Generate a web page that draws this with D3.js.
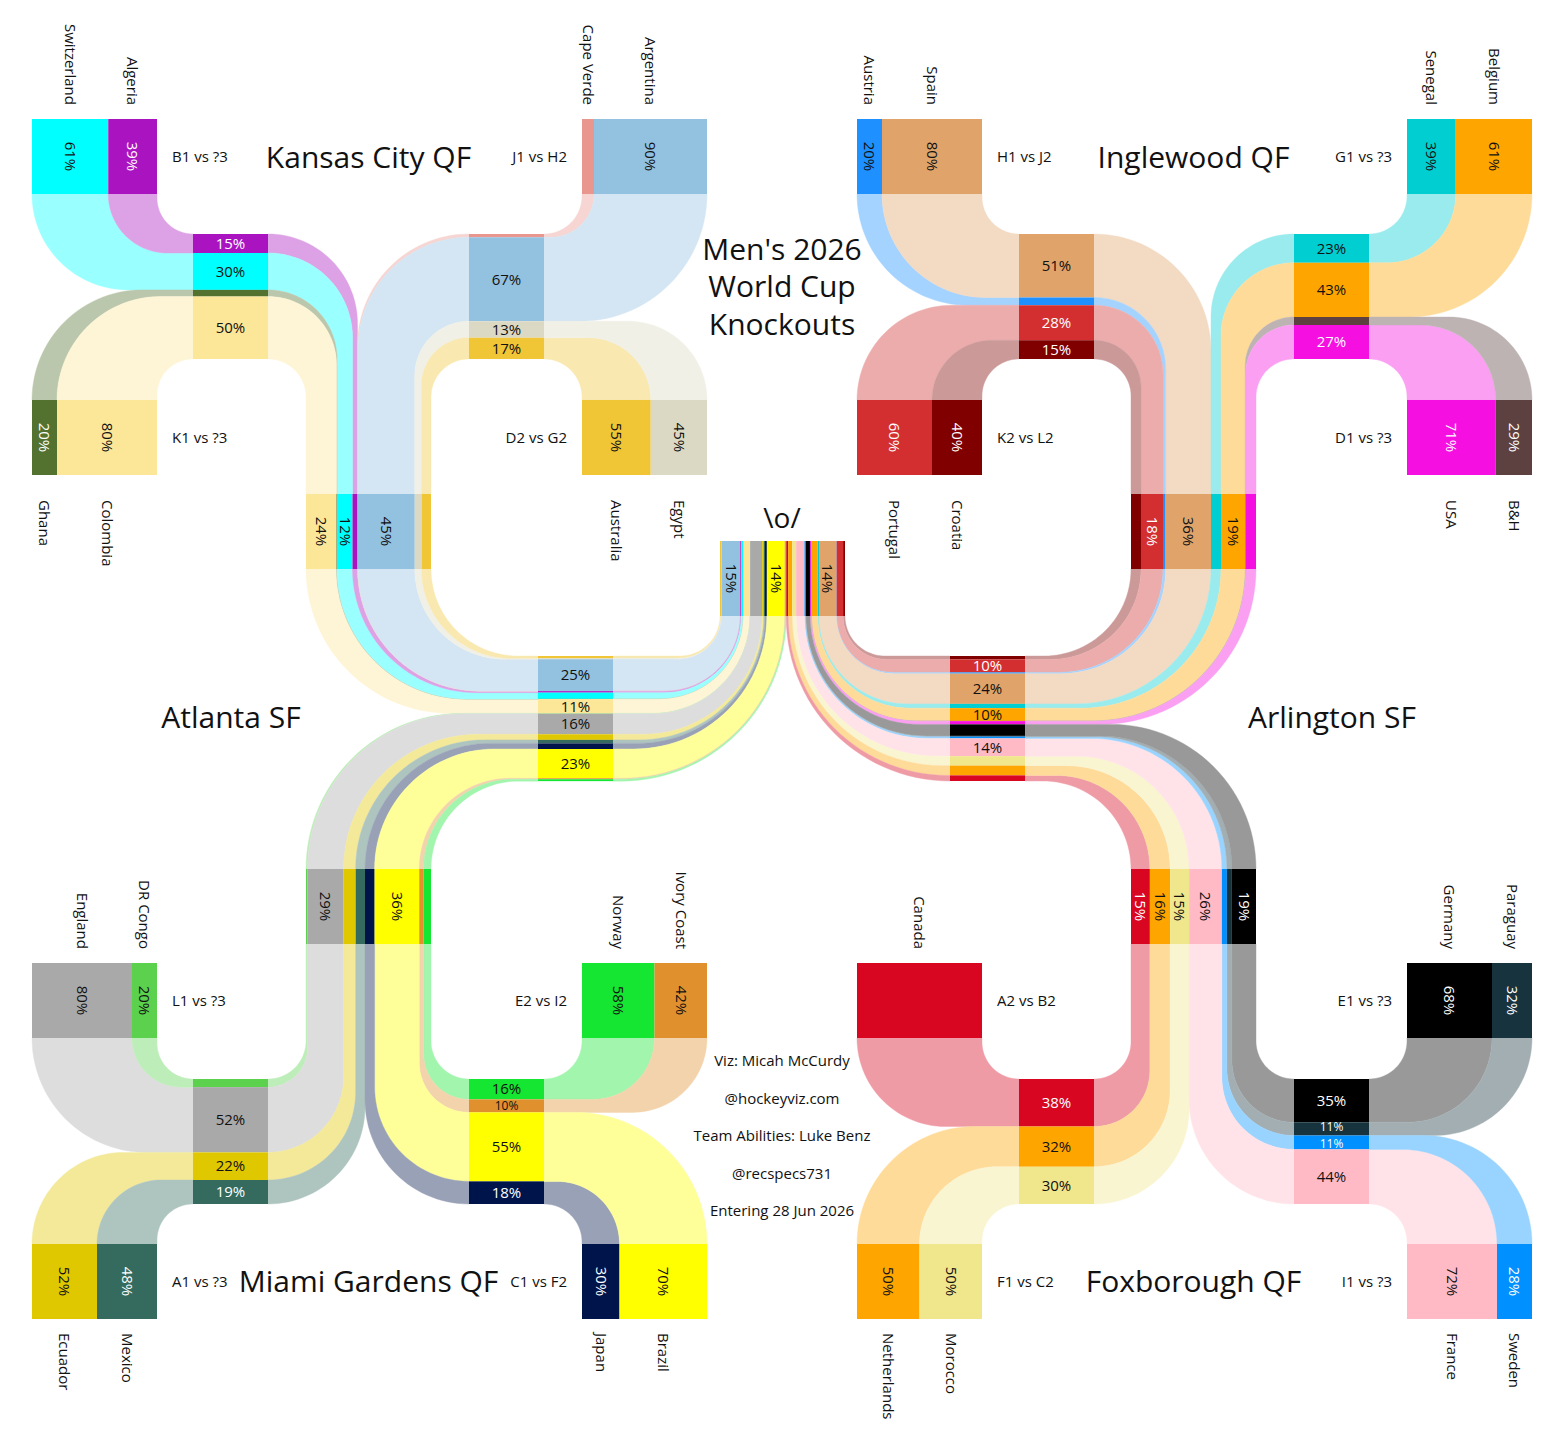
<!DOCTYPE html>
<html>
<head>
<meta charset="utf-8">
<script src="https://cdn.jsdelivr.net/npm/d3@7"></script>
<style>
  body { margin: 0; background: #fff; }
  text { font-family: "Open Sans", sans-serif; }
</style>
</head>
<body>
<div id="chart"></div>
<script>
(function() {
  var width = 1563,
      height = 1438;

  // Round of 32 matches, in bracket order.
  var matchLabels = ["B1 vs ?3", "K1 vs ?3", "J1 vs H2", "D2 vs G2",
                     "H1 vs J2", "K2 vs L2", "G1 vs ?3", "D1 vs ?3",
                     "L1 vs ?3", "A1 vs ?3", "E2 vs I2", "C1 vs F2",
                     "A2 vs B2", "F1 vs C2", "E1 vs ?3", "I1 vs ?3"];
  var matchTeams = [["Switzerland", "Algeria"], ["Ghana", "Colombia"], ["Cape Verde", "Argentina"], ["Australia", "Egypt"],
                    ["Austria", "Spain"], ["Portugal", "Croatia"], ["Senegal", "Belgium"], ["USA", "B&H"],
                    ["England", "DR Congo"], ["Ecuador", "Mexico"], ["Norway", "Ivory Coast"], ["Japan", "Brazil"],
                    ["Canada"], ["Netherlands", "Morocco"], ["Germany", "Paraguay"], ["France", "Sweden"]];

  var teams = ["Switzerland", "Algeria", "Ghana", "Colombia", "Cape Verde", "Argentina", "Australia", "Egypt",
               "Austria", "Spain", "Portugal", "Croatia", "Senegal", "Belgium", "USA", "B&H",
               "England", "DR Congo", "Ecuador", "Mexico", "Norway", "Ivory Coast", "Japan", "Brazil",
               "Canada", "Netherlands", "Morocco", "Germany", "Paraguay", "France", "Sweden"];

  // Chance (%) of winning each round, same order as teams.
  var winR32 = [61, 39, 20, 80, 9.6, 90.4, 55, 45,
                20, 80, 60, 40, 39, 61, 71, 29,
                80, 20, 52, 48, 58, 42, 30, 70,
                100, 50, 50, 68, 32, 72, 28];
  var winR16 = [29.5, 15.2, 5.3, 50, 2.6, 67.2, 17, 13.2,
                6.2, 50.8, 28, 15, 23, 43.4, 27.2, 6.4,
                52.2, 6.5, 22.1, 19.2, 16.3, 10.4, 18.1, 55.2,
                38, 32.2, 29.8, 34.6, 10.6, 43.7, 11.1];
  var winQF = [12.4, 4.0, 0.4, 24.4, 0.4, 45.4, 7.6, 5.4,
               2.1, 36.3, 17.6, 8, 8, 19.4, 8.2, 0.4,
               28.8, 1.3, 9.6, 7.5, 5.9, 3.5, 7.7, 35.7,
               15.1, 16.2, 15.2, 19.3, 4, 26.2, 4];
  var winSF = [5, 1.2, 0.2, 11.4, 0.1, 25.4, 1.8, 0.8,
               1.0, 24.2, 10.4, 2.7, 3.4, 10.2, 2.6, 0.2,
               16.4, 0.3, 4.5, 2.8, 1.5, 0.8, 4.5, 23.4,
               4.5, 7.8, 7.6, 9.2, 0.6, 14.2, 1.4];
  var winFinal = [1.6, 0.8, 0.1, 5.3, 0, 15, 1, 0.2,
                  0.2, 13.9, 5.2, 1.5, 1, 5, 1, 0.1,
                  9.6, 0.1, 1.3, 1, 0.7, 0.5, 1.5, 14.3,
                  1.5, 3.2, 3.2, 3.4, 0.3, 6.7, 0.8];

  var quarterTitles = ["Kansas City QF", "Inglewood QF", "Miami Gardens QF", "Foxborough QF"];
  var semiTitles = ["Atlanta SF", "Arlington SF"];
  var credits = ["Viz: Micah McCurdy", "@hockeyviz.com", "Team Abilities: Luke Benz", "@recspecs731", "Entering 28 Jun 2026"];

  var teamColors = {
    "Switzerland": "#00ffff", "Algeria": "#aa14c0", "Ghana": "#537230", "Colombia": "#fce698",
    "Cape Verde": "#e9968f", "Argentina": "#93c1e0", "Australia": "#f0c637", "Egypt": "#dbd9c3",
    "Austria": "#1e90ff", "Spain": "#e0a36a", "Portugal": "#d32f30", "Croatia": "#800000",
    "Senegal": "#00ced1", "Belgium": "#ffa500", "USA": "#f50fe0", "B&H": "#5d4040",
    "England": "#a9a9a9", "DR Congo": "#5bd14e", "Ecuador": "#e0c800", "Mexico": "#346b5e",
    "Norway": "#14e632", "Ivory Coast": "#e0902d", "Japan": "#00144c", "Brazil": "#ffff00",
    "Canada": "#d80621", "Netherlands": "#ffa500", "Morocco": "#f0e68c", "Germany": "#000000",
    "Paraguay": "#17343e", "France": "#ffbac6", "Sweden": "#0090ff"
  };
  var whiteText = ["Algeria", "Ghana", "Portugal", "Croatia", "USA", "B&H", "Mexico", "Japan",
                   "Canada", "Sweden", "Germany", "Paraguay"];

  var svg = d3.select("#chart").append("svg")
      .attr("width", width)
      .attr("height", height);

  // 100% of a round spans 125px.
  var u = d3.scaleLinear().domain([0, 100]).range([0, 125]);
  var rounds = [winR32, winR16, winQF, winSF, winFinal];

  function makeBar(x, y, horiz, round) {
    return { x: x, y: y, w: horiz ? u(100) : u(60), h: horiz ? u(60) : u(100),
             horiz: horiz, round: round, teams: [], seg: {} };
  }
  function center(b) { return [b.x + b.w / 2, b.y + b.h / 2]; }
  function mid(b, t) { return (b.seg[t][0] + b.seg[t][1]) / 2; }
  function stack(b, order) {
    var pos = b.horiz ? b.x : b.y;
    b.teams = order;
    order.forEach(function(t) {
      var len = u(rounds[b.round][t]);
      b.seg[t] = [pos, pos + len];
      pos += len;
    });
  }

  // Bar positions.
  var boxXY = [[32, 119], [32, 400], [582, 119], [582, 400],
               [857, 119], [857, 400], [1407, 119], [1407, 400],
               [32, 963], [32, 1244], [582, 963], [582, 1244],
               [857, 963], [857, 1244], [1407, 963], [1407, 1244]];
  var r16XY = [[193, 234], [469, 234], [1019, 234], [1294, 234],
               [193, 1079], [469, 1079], [1019, 1079], [1294, 1079]];
  var qfXY = [[306, 494], [1131, 494], [306, 869], [1131, 869]];
  var sfXY = [[538, 656], [950, 656]];

  var boxes = boxXY.map(function(p, i) {
    var b = makeBar(p[0], p[1], true, 0);
    stack(b, matchTeams[i].map(function(n) { return teams.indexOf(n); }));
    return b;
  });
  var r16 = r16XY.map(function(p) { return makeBar(p[0], p[1], false, 1); });
  var qf = qfXY.map(function(p) { return makeBar(p[0], p[1], true, 2); });
  var sf = sfXY.map(function(p) { return makeBar(p[0], p[1], false, 3); });
  var fin = makeBar(720, 541, true, 4);

  // Order teams inside a bar so that the ribbons coming in never cross.
  function feed(B, sources) {
    var bc = center(B), ax = B.horiz ? 0 : 1;
    sources = sources.slice().sort(function(a, b) { return center(a)[ax] - center(b)[ax]; });
    var order = [];
    sources.forEach(function(S) {
      var sc = center(S);
      var d0 = S.horiz ? [0, Math.sign(bc[1] - sc[1])] : [Math.sign(bc[0] - sc[0]), 0];
      var d1 = B.horiz ? [0, Math.sign(bc[1] - sc[1])] : [Math.sign(bc[0] - sc[0]), 0];
      var k = d1[S.horiz ? 0 : 1];
      var g = S.teams.slice().sort(function(a, b) { return k * (mid(S, b) - mid(S, a)); });
      if (-d0[ax] > 0) g.reverse();
      order = order.concat(g);
      S.d0 = d0; S.d1 = d1; S.next = B;
    });
    stack(B, order);
  }

  r16.forEach(function(b, i) { feed(b, [boxes[2 * i], boxes[2 * i + 1]]); });
  feed(qf[0], [r16[0], r16[1]]);
  feed(qf[1], [r16[2], r16[3]]);
  feed(qf[2], [r16[4], r16[5]]);
  feed(qf[3], [r16[6], r16[7]]);
  feed(sf[0], [qf[0], qf[2]]);
  feed(sf[1], [qf[1], qf[3]]);
  feed(fin, [sf[0], sf[1]]);

  // One edge of a ribbon: straight, quarter turn, straight.
  function edgePts(P0, d0, P1, d1) {
    var dx = P1[0] - P0[0], dy = P1[1] - P0[1];
    var a = dx * d0[0] + dy * d0[1], b = dx * d1[0] + dy * d1[1];
    var C = [P0[0] + d0[0] * a, P0[1] + d0[1] * a];
    var r = Math.max(0, Math.min(a, b));
    var A = [C[0] - d0[0] * r, C[1] - d0[1] * r];
    var O = [A[0] + d1[0] * r, A[1] + d1[1] * r];
    var pts = [P0];
    for (var i = 0; i <= 30; i++) {
      var th = i / 30 * Math.PI / 2;
      pts.push([O[0] - d1[0] * r * Math.cos(th) + d0[0] * r * Math.sin(th),
                O[1] - d1[1] * r * Math.cos(th) + d0[1] * r * Math.sin(th)]);
    }
    pts.push(P1);
    return pts;
  }

  function ribbon(S, t) {
    var B = S.next, d0 = S.d0, d1 = S.d1;
    var s = S.seg[t], b = B.seg[t];
    var sAx = S.horiz ? 0 : 1, bAx = B.horiz ? 0 : 1;
    var sEdge = S.horiz ? (d0[1] > 0 ? S.y + S.h : S.y) : (d0[0] > 0 ? S.x + S.w : S.x);
    var bEdge = B.horiz ? (d1[1] > 0 ? B.y : B.y + B.h) : (d1[0] > 0 ? B.x : B.x + B.w);
    function pt(horiz, along, edge) { return horiz ? [along, edge] : [edge, along]; }
    var sIn = d1[sAx] > 0 ? s[1] : s[0], sOut = d1[sAx] > 0 ? s[0] : s[1];
    var bIn = -d0[bAx] > 0 ? b[1] : b[0], bOut = -d0[bAx] > 0 ? b[0] : b[1];
    var e1 = edgePts(pt(S.horiz, sIn, sEdge), d0, pt(B.horiz, bIn, bEdge), d1);
    var e2 = edgePts(pt(S.horiz, sOut, sEdge), d0, pt(B.horiz, bOut, bEdge), d1);
    return e1.concat(e2.reverse());
  }

  var line = d3.line();
  var sources = boxes.concat(r16, qf, sf);
  var ribbonData = [];
  sources.forEach(function(S) {
    S.teams.forEach(function(t) { ribbonData.push({ S: S, t: t }); });
  });

  svg.append("g").selectAll("path")
    .data(ribbonData)
    .enter().append("path")
      .attr("d", function(d) { return line(ribbon(d.S, d.t)) + "Z"; })
      .attr("fill", function(d) { return d3.interpolateRgb("#ffffff", teamColors[teams[d.t]])(0.4); })
      .attr("stroke", function(d) { return d3.interpolateRgb("#ffffff", teamColors[teams[d.t]])(0.4); })
      .attr("stroke-width", 0.4);

  // Bars.
  var bars = boxes.concat(r16, qf, sf, [fin]);
  var segData = [];
  bars.forEach(function(b) {
    b.teams.forEach(function(t) { segData.push({ b: b, t: t, s: b.seg[t] }); });
  });

  svg.append("g").selectAll("rect")
    .data(segData)
    .enter().append("rect")
      .attr("x", function(d) { return d.b.horiz ? d.s[0] : d.b.x; })
      .attr("y", function(d) { return d.b.horiz ? d.b.y : d.s[0]; })
      .attr("width", function(d) { return d.b.horiz ? d.s[1] - d.s[0] : d.b.w; })
      .attr("height", function(d) { return d.b.horiz ? d.b.h : d.s[1] - d.s[0]; })
      .attr("fill", function(d) { return teamColors[teams[d.t]]; });

  // Percent labels inside bars; crowded labels in thin segments get a smaller font.
  var labelData = segData.filter(function(d) {
    var v = rounds[d.b.round][d.t];
    return v >= 10 && v < 99.5;
  });
  labelData.forEach(function(d) { d.m = (d.s[0] + d.s[1]) / 2; d.fs = 15; });
  bars.forEach(function(b) {
    if (b.horiz) return;
    var ls = labelData.filter(function(d) { return d.b === b; })
      .sort(function(a, c) { return a.m - c.m; });
    for (var i = 0; i + 1 < ls.length; i++) {
      var p = ls[i], q = ls[i + 1];
      var gap = q.m - p.m;
      if (gap >= 17) continue;
      var thinP = p.s[1] - p.s[0] < 15, thinQ = q.s[1] - q.s[0] < 15;
      if (thinP) p.fs = 12;
      if (thinQ) q.fs = 12;
      if (thinP && thinQ) {
        var shift = (17 - gap) / 2;
        p.m -= shift;
        q.m += shift;
      }
    }
  });

  svg.append("g").selectAll("text")
    .data(labelData)
    .enter().append("text")
      .attr("transform", function(d) {
        return d.b.horiz
          ? "translate(" + d.m + "," + (d.b.y + d.b.h / 2) + ") rotate(90)"
          : "translate(" + (d.b.x + d.b.w / 2) + "," + d.m + ")";
      })
      .attr("text-anchor", "middle")
      .attr("dy", "0.35em")
      .style("font-size", function(d) { return d.fs + "px"; })
      .style("fill", function(d) { return whiteText.indexOf(teams[d.t]) >= 0 ? "#fff" : "#111"; })
      .text(function(d) { return Math.round(rounds[d.b.round][d.t]) + "%"; });

  // Team names and match labels around the round of 32 boxes.
  var names = svg.append("g");
  boxes.forEach(function(b, i) {
    var down = b.d0[1] > 0;
    var gapBelow = b.y < 719 ? 25 : 14;
    b.teams.forEach(function(t) {
      var m = mid(b, t);
      names.append("text")
        .attr("transform", "translate(" + m + "," + (down ? b.y - 14 : b.y + b.h + gapBelow) + ") rotate(90)")
        .attr("text-anchor", down ? "end" : "start")
        .attr("dy", "0.35em")
        .style("font-size", "15px")
        .style("fill", "#111")
        .text(teams[t]);
    });
    var right = center(b.next)[0] > center(b)[0];
    names.append("text")
      .attr("x", right ? b.x + b.w + 15 : b.x - 15)
      .attr("y", b.y + b.h / 2)
      .attr("dy", "0.35em")
      .attr("text-anchor", right ? "start" : "end")
      .style("font-size", "15px")
      .style("fill", "#111")
      .text(matchLabels[i]);
  });

  // Titles.
  var titles = svg.append("g").style("fill", "#111");
  qf.forEach(function(b, i) {
    var top = i < 2;
    titles.append("text")
      .attr("x", b.x + b.w / 2)
      .attr("y", top ? 157 : 1281)
      .attr("dy", "0.35em")
      .attr("text-anchor", "middle")
      .style("font-size", "30px")
      .text(quarterTitles[i]);
  });
  semiTitles.forEach(function(s, i) {
    titles.append("text")
      .attr("x", i === 0 ? 231 : 1332)
      .attr("y", 717)
      .attr("dy", "0.35em")
      .attr("text-anchor", "middle")
      .style("font-size", "30px")
      .text(s);
  });
  ["Men's 2026", "World Cup", "Knockouts"].forEach(function(s, i) {
    titles.append("text")
      .attr("x", 782)
      .attr("y", 249 + i * 37.5)
      .attr("dy", "0.35em")
      .attr("text-anchor", "middle")
      .style("font-size", "30px")
      .text(s);
  });
  titles.append("text")
    .attr("x", 782)
    .attr("y", 518)
    .attr("dy", "0.35em")
    .attr("text-anchor", "middle")
    .style("font-size", "28px")
    .text("\\o/");
  credits.forEach(function(s, i) {
    titles.append("text")
      .attr("x", 782)
      .attr("y", 1061 + i * 37.5)
      .attr("dy", "0.35em")
      .attr("text-anchor", "middle")
      .style("font-size", "15px")
      .text(s);
  });
})();
</script>
</body>
</html>
